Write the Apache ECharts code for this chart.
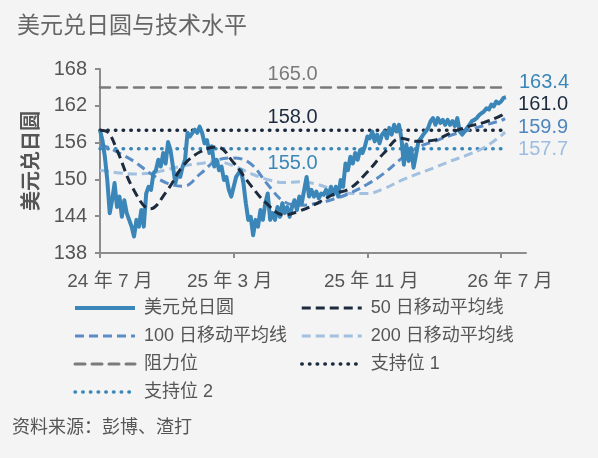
<!DOCTYPE html>
<html>
<head>
<meta charset="utf-8">
<script src="https://cdn.jsdelivr.net/npm/echarts@6/dist/echarts.min.js"></script>
<style>
  html, body { margin: 0; padding: 0; background: #f4f4f4; }
  #chart { width: 598px; height: 458px; }
</style>
</head>
<body>
<div id="chart"></div>
<script>
// x 轴按月计（0 = 24年7月）
var xTicks = [0, 8, 16, 24];
var xTickLabels = ['24 年 7 月', '25 年 3 月', '25 年 11 月', '26 年 7 月'];

// 美元兑日圆，约每 4~5 天一个点，从 24年7月 到 26年7月初
var spotSpan = 24.3;
var spot = [
  158, 156.4, 153.7, 149.9, 144.5, 146.6, 149.4, 145.5, 147.2, 143.9,
  146.6, 144.5, 143.4, 142.3, 140.7, 143.4, 142.3, 145, 142.3, 147.7,
  148.8, 148.3, 151, 151.5, 153.2, 152.1, 154.3, 152.6, 156.1, 154.8,
  152.1, 149.4, 151, 150.4, 152.1, 153.2, 157.6, 157, 157.6, 158.1,
  157.6, 158.6, 157.6, 155.9, 156.4, 154.3, 155.4, 152.1, 153.2, 151.5,
  152.1, 149.9, 150.4, 148.3, 147.2, 148.8, 150.4,
  151, 151.5, 149.4, 146.1, 143.4, 143.9, 140.9, 143.4, 142.3, 145,
  143.4, 146.1, 147.7, 143.4, 144.5, 143.4, 145.5, 143.9, 146.1, 144.5,
  145.5, 143.9, 145.5, 146.6, 145, 147.2, 146.1, 148.3, 150.4, 147.2,
  148.3, 147.2, 148, 146.9, 147.7, 147.5, 148.3, 147.2, 148.8, 147.5,
  148.8, 147.2, 149.9, 148.8, 152.6, 151.5, 153.7, 152.6, 154.3, 153.2,
  154.8, 154.3, 155.4, 157,
  156.7, 157.8, 156.2, 157.3, 155.9, 157.3, 157.8, 156.7, 158.4, 157.3,
  158.9, 157.8, 158.9, 156.7, 152.4, 155.7, 153, 155.1, 151.9, 154,
  156.2, 156.7, 157.3, 157.8, 158.4, 159.5, 160, 158.9, 160, 159.2,
  159.7, 158.9, 159.7, 158.9, 159.5, 158.7, 160, 157.8, 157.3, 157.8,
  158.4, 158.9, 159.5, 159.7, 160, 160.5, 160.8, 161.1, 161.6, 161.4,
  162.2, 161.9, 162.7, 162.4, 162.7, 163.3, 163.4
];

// 移动平均线，按月取点
var maMonths = [0, 0.5, 1, 2, 3, 4, 5, 6, 7, 8, 9, 10, 11, 12, 13, 14, 15, 16, 17, 18, 19, 20, 21, 22, 23, 24, 24.25];
var ma50 = [158, 157.6, 154.9, 148.4, 145.2, 148.1, 152.3, 154.5, 155.3, 152.7, 149.1, 146, 144.2, 144.9, 146.1, 147.6, 148.6, 151.2, 154.3, 156.7, 156.2, 156.4, 157.6, 158.6, 159.3, 160.4, 161.0];
var ma100 = [155.6, 155.2, 154.5, 153, 151, 149.4, 148.9, 150.9, 153.1, 153.5, 152.6, 149.3, 146.4, 145.8, 146.1, 146.8, 147.8, 149.2, 151, 153.3, 155.2, 156.2, 157.2, 158, 158.8, 159.6, 159.9];
var ma200 = [151.5, 151.3, 151.1, 150.9, 151, 151.6, 152.2, 152.6, 152.9, 152.2, 151, 150, 149.5, 149.6, 149.2, 148.3, 147.7, 147.7, 148.5, 149.8, 150.9, 151.9, 153, 154, 155.2, 157.1, 157.7];

// 阻力位 / 支持位
var levelSpan = [0, 24.25];
var levelLabelAt = 11.53;
var resistance = 165;
var support1 = 158;
var support2 = 155;

var FONT = 'Liberation Sans, Arial, Noto Sans CJK SC, sans-serif';
var DOT = [0.5, 7.2];

function pairs(xs, ys) {
  return ys.map(function (v, i) { return [xs[i], v]; });
}
function spotData() {
  var step = spotSpan / (spot.length - 1);
  return spot.map(function (v, i) { return [i * step, v]; });
}
function endLabel(color, dy) {
  return {
    show: true,
    formatter: function (p) { return p.value[1].toFixed(1); },
    color: color,
    fontSize: 20,
    fontFamily: FONT,
    distance: 13,
    offset: [0, dy]
  };
}
function levelSeries(name, value, color, dash, width, labelPos, dist) {
  return {
    name: name,
    type: 'line',
    symbol: 'none',
    silent: true,
    data: [[levelSpan[0], value], [levelSpan[1], value]],
    lineStyle: { color: color, width: width, type: dash, cap: 'round' },
    itemStyle: { color: color },
    markPoint: {
      symbol: 'circle',
      symbolSize: 0,
      silent: true,
      data: [{ coord: [levelLabelAt, value] }],
      label: {
        show: true,
        position: labelPos,
        distance: dist,
        formatter: value.toFixed(1),
        color: color,
        fontSize: 20,
        fontFamily: FONT
      }
    },
    z: 1
  };
}

// 每个 x 轴标签在原图中略有偏移
var xLabelRich = {
  l0: { padding: [0, 0, 0, 20] },
  l1: { padding: [0, 8, 0, 0] },
  l2: { padding: [0, 0, 0, 8] },
  l3: { padding: [0, 0, 0, 18] }
};
Object.keys(xLabelRich).forEach(function (k) {
  xLabelRich[k].fontSize = 19;
  xLabelRich[k].color = '#555';
  xLabelRich[k].fontFamily = FONT;
});

var legendCommon = {
  orient: 'vertical',
  top: 299,
  padding: 0,
  itemWidth: 60,
  itemHeight: 14,
  itemGap: 10,
  itemStyle: { opacity: 0 },
  lineStyle: { width: 3 },
  textStyle: { color: '#555', fontSize: 18, fontFamily: FONT, padding: [0, 0, 0, 4] }
};

var chart = echarts.init(document.getElementById('chart'));

var option = {
  backgroundColor: '#f4f4f4',
  animation: false,
  title: {
    text: '美元兑日圆与技术水平',
    left: 12,
    top: 8,
    textStyle: { color: '#666', fontSize: 23, fontWeight: 'normal', fontFamily: 'Noto Sans CJK SC' }
  },
  grid: { left: 100, right: 72, top: 69, bottom: 205 },
  xAxis: {
    type: 'value',
    min: 0,
    max: 25.5,
    splitLine: { show: false },
    axisLine: { lineStyle: { color: '#8c8c8c', width: 2 } },
    axisTick: { customValues: xTicks, length: 5, lineStyle: { color: '#8c8c8c', width: 2 } },
    axisLabel: {
      customValues: xTicks,
      margin: 19,
      color: '#555',
      fontSize: 19,
      fontFamily: FONT,
      rich: xLabelRich,
      formatter: function (v) {
        var i = xTicks.indexOf(v);
        return i < 0 ? '' : '{l' + i + '|' + xTickLabels[i] + '}';
      }
    }
  },
  yAxis: {
    type: 'value',
    min: 138,
    max: 168,
    interval: 6,
    name: '美元兑日圆',
    nameLocation: 'middle',
    nameGap: 60,
    nameRotate: 90,
    nameTextStyle: { color: '#555', fontSize: 20, fontWeight: 'bold', fontFamily: 'Noto Sans CJK SC' },
    splitLine: { show: false },
    axisLine: { show: true, lineStyle: { color: '#8c8c8c', width: 2 } },
    axisTick: { show: true, length: 5, lineStyle: { color: '#8c8c8c', width: 2 } },
    axisLabel: { margin: 13, color: '#555', fontSize: 20, fontFamily: FONT }
  },
  legend: [
    Object.assign({}, legendCommon, {
      left: 73,
      data: [
        { name: '美元兑日圆', lineStyle: { width: 4 } },
        '100 日移动平均线', '阻力位',
        { name: '支持位 2', lineStyle: { width: 3.5 } }
      ]
    }),
    Object.assign({}, legendCommon, {
      left: 300,
      data: [
        '50 日移动平均线', '200 日移动平均线',
        { name: '支持位 1', lineStyle: { width: 3.5 } }
      ]
    })
  ],
  graphic: [
    {
      type: 'text',
      left: 12,
      top: 417,
      style: { text: '资料来源：彭博、渣打', fill: '#555', fontSize: 18, fontFamily: 'Noto Sans CJK SC' }
    }
  ],
  series: [
    levelSeries('阻力位', resistance, '#7a7a7a', [10, 7], 2.5, 'top', 3),
    levelSeries('支持位 1', support1, '#1c2b3e', DOT, 3.5, 'top', 3),
    levelSeries('支持位 2', support2, '#3a87b8', DOT, 3.5, 'bottom', 5),
    {
      name: '200 日移动平均线',
      type: 'line',
      symbol: 'none',
      smooth: 0.4,
      data: pairs(maMonths, ma200),
      lineStyle: { color: '#a2c0e0', width: 3, type: [9, 5] },
      itemStyle: { color: '#a2c0e0' },
      endLabel: endLabel('#9dbde0', 17),
      z: 2
    },
    {
      name: '100 日移动平均线',
      type: 'line',
      symbol: 'none',
      smooth: 0.4,
      data: pairs(maMonths, ma100),
      lineStyle: { color: '#5a8cc6', width: 3, type: [9, 5] },
      itemStyle: { color: '#5a8cc6' },
      endLabel: endLabel('#4f86bf', 9),
      z: 3
    },
    {
      name: '美元兑日圆',
      type: 'line',
      symbol: 'none',
      data: spotData(),
      lineStyle: { color: '#3a86b8', width: 4, join: 'round' },
      itemStyle: { color: '#3a86b8' },
      endLabel: endLabel('#3a86b8', -15),
      z: 4
    },
    {
      name: '50 日移动平均线',
      type: 'line',
      symbol: 'none',
      smooth: 0.4,
      data: pairs(maMonths, ma50),
      lineStyle: { color: '#1c2b3e', width: 3, type: [9, 5] },
      itemStyle: { color: '#1c2b3e' },
      endLabel: endLabel('#1c2b3e', -7),
      z: 5
    }
  ]
};

chart.setOption(option);
</script>
</body>
</html>
